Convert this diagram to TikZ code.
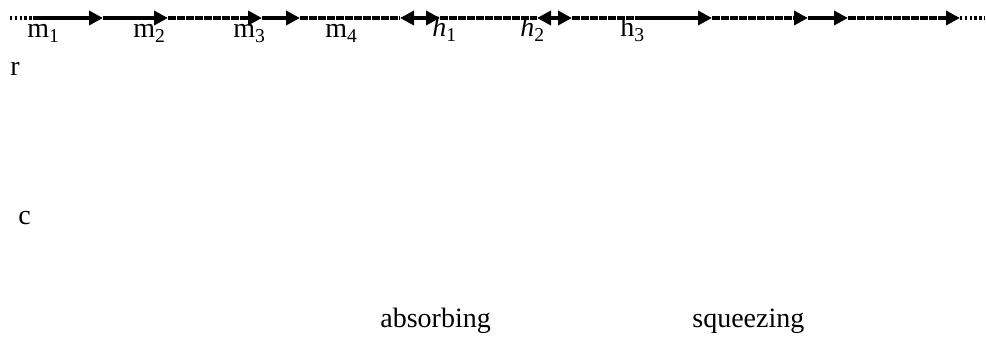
\documentclass[tikz,border=0pt]{standalone}
\usepackage{fontspec}
\setmainfont{Liberation Serif}
\usepackage{tikz}
\usetikzlibrary{arrows.meta}
\tikzset{
  seg/.style={line width=1.9pt, draw=black},
  dashseg/.style={line width=1.7pt, draw=black, dash pattern=on 4pt off 0.5pt},
  dotseg/.style={line width=1.9pt, draw=black, dash pattern=on 1.2pt off 1.2pt},
  tip/.style={-{Triangle[length=7pt, width=7pt]}},
  tips/.style={{Triangle[length=7pt, width=7pt]}-{Triangle[length=7pt, width=7pt]}},
  lbl/.style={anchor=base west, inner sep=0pt, font=\fontsize{14}{16}\selectfont},
}

\begin{document}
\begin{tikzpicture}[x=0.5pt, y=-0.5pt]
  \useasboundingbox (0,0) rectangle (986,342);
  % points on the line
  \coordinate (a0) at (10,18);
  \coordinate (a1) at (33,18);
  \coordinate (a2) at (103,18);
  \coordinate (a3) at (168,18);
  \coordinate (a4) at (262,18);
  \coordinate (a5) at (300,18);
  \coordinate (a6) at (400,18);
  \coordinate (a7) at (440,18);
  \coordinate (a8) at (537,18);
  \coordinate (a9) at (572,18);
  \coordinate (a10) at (640,18);
  \coordinate (a11) at (712,18);
  \coordinate (a12) at (808,18);
  \coordinate (a13) at (848,18);
  \coordinate (a14) at (960,18);
  \coordinate (a15) at (985,18);

  % the line
  \draw[dotseg] (a0) -- (a1);
  \draw[seg, tip] (a1) -- (a2);
  \draw[seg, tip] (a2) -- (a3);
  \draw[dashseg, tip] (a3) -- (a4);
  \draw[seg, tip] (a4) -- (a5);
  \draw[dashseg] (a5) -- (a6);
  \draw[seg, tips] (a6) -- (a7);
  \draw[dashseg] (a7) -- (a8);
  \draw[seg, tips] (a8) -- (a9);
  \draw[dashseg] (a9) -- (a10);
  \draw[seg, tip] (a10) -- (a11);
  \draw[dashseg, tip] (a11) -- (a12);
  \draw[seg, tip] (a12) -- (a13);
  \draw[dashseg, tip] (a13) -- (a14);
  \draw[dotseg] (a14) -- (a15);

  % labels
  \node[lbl] (m1) at (27,38) {m\textsubscript{1}};
  \node[lbl] (m2) at (133,38) {m\textsubscript{2}};
  \node[lbl] (m3) at (233,38) {m\textsubscript{3}};
  \node[lbl] (m4) at (325,38) {m\textsubscript{4}};
  \node[lbl] (h1) at (432,37) {\textit{h}\textsubscript{1}};
  \node[lbl] (h2) at (520,37) {\textit{h}\textsubscript{2}};
  \node[lbl] (h3) at (620,37) {h\textsubscript{3}};
  \node[lbl] (r) at (10,76) {r};
  \node[lbl] (c) at (18,224) {c};
  \node[lbl] (absorb) at (380,327) {absorbing};
  \node[lbl] (squeeze) at (692,327) {squeezing};
\end{tikzpicture}
\end{document}
